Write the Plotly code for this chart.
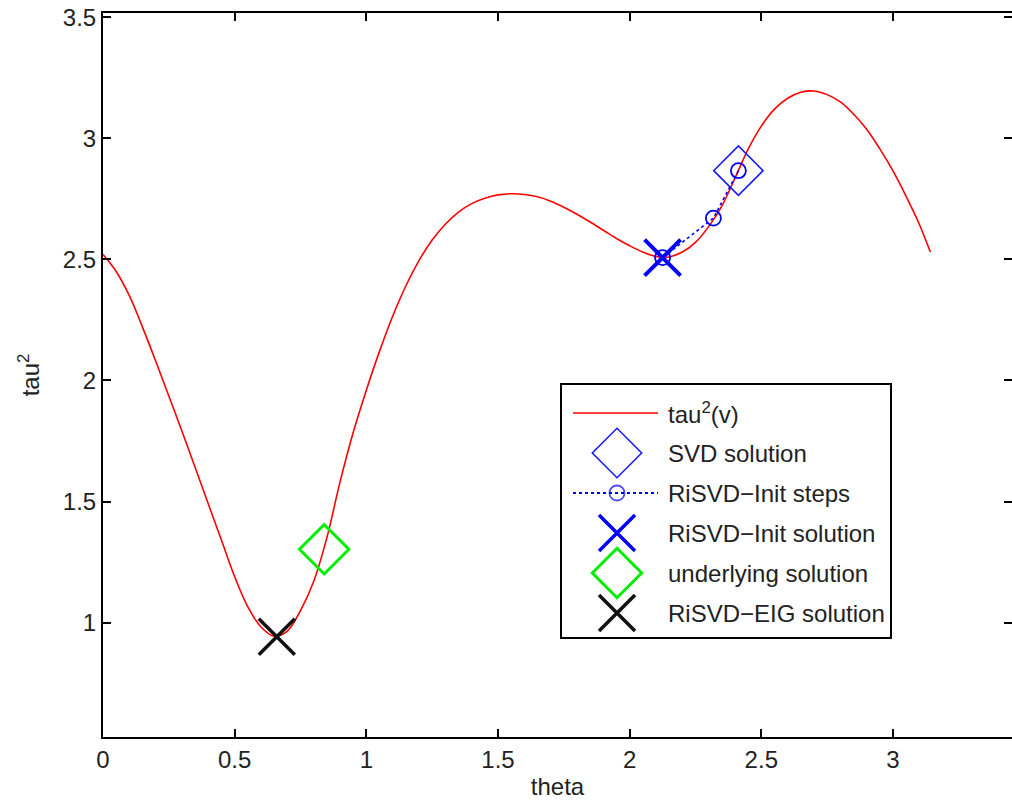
import plotly.graph_objects as go

# ---- data ----
theta = [0.00, 0.05, 0.10, 0.15, 0.20, 0.30, 0.40, 0.45, 0.50, 0.55, 0.60, 0.65, 0.70,
         0.75, 0.80, 0.85, 0.90, 0.95, 1.00, 1.05, 1.10, 1.15, 1.20, 1.25, 1.30, 1.35,
         1.40, 1.45, 1.50, 1.55, 1.60, 1.65, 1.70, 1.75, 1.80, 1.85, 1.90, 1.95, 2.00,
         2.05, 2.10, 2.15, 2.20, 2.25, 2.30, 2.35, 2.40, 2.45, 2.50, 2.55, 2.60, 2.65,
         2.70, 2.75, 2.80, 2.85, 2.90, 2.95, 3.00, 3.05, 3.10, 3.142]
tau2 = [2.52, 2.45, 2.35, 2.22, 2.08, 1.79, 1.49, 1.34, 1.19, 1.065, 0.982, 0.944, 0.965,
        1.05, 1.17, 1.35, 1.58, 1.785, 1.96, 2.12, 2.265, 2.39, 2.495, 2.58, 2.645, 2.695,
        2.73, 2.752, 2.766, 2.771, 2.768, 2.758, 2.74, 2.715, 2.686, 2.654, 2.62, 2.586, 2.556,
        2.53, 2.512, 2.51, 2.53, 2.57, 2.635, 2.72, 2.835, 2.955, 3.05, 3.12, 3.165, 3.19,
        3.195, 3.18, 3.15, 3.10, 3.037, 2.956, 2.865, 2.76, 2.645, 2.53]

svd_theta = [2.413]
svd_tau = [2.866]
steps_theta = [2.413, 2.318, 2.125]
steps_tau = [2.866, 2.670, 2.507]
init_theta = [2.125]
init_tau = [2.507]
under_theta = [0.840]
under_tau = [1.303]
eig_theta = [0.660]
eig_tau = [0.942]

x_ticks = [0, 0.5, 1, 1.5, 2, 2.5, 3]
x_ticktext = ["0", "0.5", "1", "1.5", "2", "2.5", "3"]
y_ticks = [1, 1.5, 2, 2.5, 3, 3.5]
y_ticktext = ["1", "1.5", "2", "2.5", "3", "3.5"]

legend_labels = ["tau<sup>2</sup>(v)", "SVD solution", "RiSVD\u2212Init steps",
                 "RiSVD\u2212Init solution", "underlying solution", "RiSVD\u2212EIG solution"]

FONT = "Liberation Sans, Arial, Helvetica, sans-serif"
TXT = "#222222"
FS = 24

fig = go.Figure()

# main traces
fig.add_trace(go.Scatter(x=theta, y=tau2, mode="lines", name=legend_labels[0],
                         line=dict(color="#ff0000", width=1.6, shape="spline", smoothing=1.0),
                         showlegend=False))
fig.add_trace(go.Scatter(x=svd_theta, y=svd_tau, mode="markers", name=legend_labels[1],
                         marker=dict(symbol="diamond-open", size=38, color="#1a1aff",
                                     line=dict(width=1.6, color="#1a1aff")),
                         showlegend=False))
fig.add_trace(go.Scatter(x=steps_theta, y=steps_tau, mode="lines+markers", name=legend_labels[2],
                         line=dict(color="#0000ff", width=1.6, dash="dot"),
                         marker=dict(symbol="circle-open", size=15, color="#0000ff",
                                     line=dict(width=1.8, color="#0000ff")),
                         showlegend=False))
fig.add_trace(go.Scatter(x=init_theta, y=init_tau, mode="markers", name=legend_labels[3],
                         marker=dict(symbol="x-thin-open", size=36, color="#0000ff",
                                     line=dict(width=4, color="#0000ff")),
                         showlegend=False))
fig.add_trace(go.Scatter(x=under_theta, y=under_tau, mode="markers", name=legend_labels[4],
                         marker=dict(symbol="diamond-open", size=38, color="#00ee00",
                                     line=dict(width=3, color="#00ee00")),
                         showlegend=False))
fig.add_trace(go.Scatter(x=eig_theta, y=eig_tau, mode="markers", name=legend_labels[5],
                         marker=dict(symbol="x-thin-open", size=36, color="#111111",
                                     line=dict(width=3.5, color="#111111")),
                         showlegend=False))

# ---- hand-drawn legend (MATLAB style, full-size markers) ----
lx, ly = "x2", "y2"
sym_x = 55
fig.add_trace(go.Scatter(x=[11, 96], y=[0, 0], mode="lines", xaxis=lx, yaxis=ly,
                         line=dict(color="#ff0000", width=1.6), showlegend=False, hoverinfo="skip"))
fig.add_trace(go.Scatter(x=[sym_x], y=[1], mode="markers", xaxis=lx, yaxis=ly,
                         marker=dict(symbol="diamond-open", size=38, color="#1a1aff",
                                     line=dict(width=1.6, color="#1a1aff")),
                         showlegend=False, hoverinfo="skip"))
fig.add_trace(go.Scatter(x=[11, sym_x, 96], y=[2, 2, 2], mode="lines+markers", xaxis=lx, yaxis=ly,
                         line=dict(color="#0000ff", width=1.8, dash="dot"),
                         marker=dict(symbol="circle-open", size=[0, 15, 0], color="#0000ff",
                                     line=dict(width=1.8, color="#0000ff")),
                         showlegend=False, hoverinfo="skip"))
fig.add_trace(go.Scatter(x=[sym_x], y=[3], mode="markers", xaxis=lx, yaxis=ly,
                         marker=dict(symbol="x-thin-open", size=36, color="#0000ff",
                                     line=dict(width=3.5, color="#0000ff")),
                         showlegend=False, hoverinfo="skip"))
fig.add_trace(go.Scatter(x=[sym_x], y=[4], mode="markers", xaxis=lx, yaxis=ly,
                         marker=dict(symbol="diamond-open", size=38, color="#00ee00",
                                     line=dict(width=3, color="#00ee00")),
                         showlegend=False, hoverinfo="skip"))
fig.add_trace(go.Scatter(x=[sym_x], y=[5], mode="markers", xaxis=lx, yaxis=ly,
                         marker=dict(symbol="x-thin-open", size=36, color="#111111",
                                     line=dict(width=3.5, color="#111111")),
                         showlegend=False, hoverinfo="skip"))

annotations = []
for i, lab in enumerate(legend_labels):
    annotations.append(dict(x=104, y=i, xref="x2", yref="y2", text=lab, showarrow=False,
                            xanchor="left", yanchor="middle",
                            font=dict(family=FONT, size=FS, color=TXT)))

# plot area: x 103..1012 px, y 13..737 px
W, H = 1012, 800
ml, mr, mt, mb = 103, 0, 13, 63
pw, ph = W - ml - mr, H - mt - mb
leg_x0, leg_x1, leg_y0, leg_y1 = 562, 890, 385, 637

axis_common = dict(showgrid=False, zeroline=False, showline=True, linecolor="black",
                   linewidth=2, ticks="inside", ticklen=8, tickwidth=1.5, tickcolor="black",
                   mirror="ticks", tickfont=dict(family=FONT, size=FS, color=TXT))

fig.update_layout(
    width=W, height=H,
    margin=dict(l=ml, r=mr, t=mt, b=mb, pad=0),
    paper_bgcolor="white", plot_bgcolor="white",
    font=dict(family=FONT, size=FS, color=TXT),
    showlegend=False,
    xaxis=dict(range=[0, 3.452], tickvals=x_ticks, ticktext=x_ticktext,
               title=dict(text="theta", standoff=8, font=dict(family=FONT, size=FS, color=TXT)),
               automargin=False, **axis_common),
    yaxis=dict(range=[0.528, 3.517], tickvals=y_ticks, ticktext=y_ticktext,
               title=dict(text="tau<sup>2</sup>", standoff=16, font=dict(family=FONT, size=FS, color=TXT)),
               automargin=False, **axis_common),
    xaxis2=dict(domain=[(leg_x0 - ml) / pw, (leg_x1 - ml) / pw], range=[0, leg_x1 - leg_x0],
                anchor="y2", showgrid=False, zeroline=False, showticklabels=False,
                showline=True, mirror=True, linecolor="black", linewidth=1.6, fixedrange=True),
    yaxis2=dict(domain=[(H - mb - leg_y1) / ph, (H - mb - leg_y0) / ph], range=[5.6, -0.7],
                anchor="x2", showgrid=False, zeroline=False, showticklabels=False,
                showline=True, mirror=True, linecolor="black", linewidth=1.6, fixedrange=True),
    annotations=annotations,
)

fig.write_html("out.html")
